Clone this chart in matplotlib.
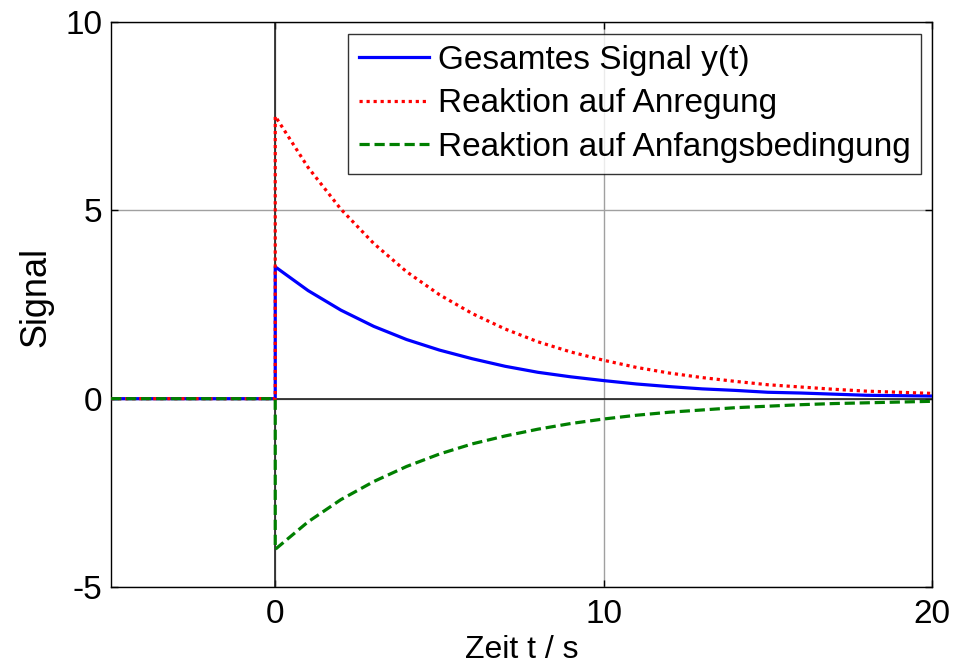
import matplotlib
matplotlib.use("Agg")
import matplotlib.pyplot as plt

plt.rcParams['font.family'] = ['Liberation Sans', 'DejaVu Sans']
plt.rcParams['axes.unicode_minus'] = False

# time axis: before step, step at t=0, then sampled response
t = [-5, 0, 0, 1, 2, 3, 4, 5, 6, 7, 8, 9, 10, 11, 12, 13, 14, 15, 16, 17, 18, 19, 20]

y_total = [0, 0, 3.5, 2.87, 2.35, 1.92, 1.57, 1.29, 1.06, 0.86, 0.70, 0.58, 0.48,
           0.39, 0.32, 0.26, 0.22, 0.17, 0.15, 0.12, 0.09, 0.08, 0.07]
y_forced = [0, 0, 7.5, 6.14, 5.03, 4.12, 3.37, 2.76, 2.26, 1.85, 1.51, 1.24, 1.02,
            0.83, 0.68, 0.56, 0.46, 0.37, 0.31, 0.25, 0.20, 0.17, 0.14]
y_initial = [0, 0, -4.0, -3.27, -2.68, -2.20, -1.80, -1.47, -1.20, -0.99, -0.81, -0.66, -0.54,
             -0.44, -0.36, -0.30, -0.24, -0.20, -0.16, -0.13, -0.11, -0.09, -0.07]

labels = ['Gesamtes Signal y(t)', 'Reaktion auf Anregung', 'Reaktion auf Anfangsbedingung']
xticks = [0, 10, 20]
yticks = [-5, 0, 5, 10]

fig = plt.figure(figsize=(9.69, 6.65), dpi=100)
ax = fig.add_axes([0.1146, 0.1173, 0.8472, 0.8496])

ax.grid(True, color='#a0a0a0', linewidth=1.0, zorder=1)
ax.axhline(0, color='#202020', linewidth=1.2, zorder=2)
ax.axvline(0, color='#202020', linewidth=1.2, zorder=2)

ax.plot(t, y_total, color='#0000ff', linewidth=2.3, linestyle='-', label=labels[0], zorder=3)
ax.plot(t, y_forced, color='#ff0000', linewidth=2.3, linestyle=(0, (1, 1.2)), label=labels[1], zorder=3)
ax.plot(t, y_initial, color='#007f00', linewidth=2.3, linestyle=(0, (3.2, 1.5)), label=labels[2], zorder=3)

ax.set_xlim(-5, 20)
ax.set_ylim(-5, 10)
ax.set_xticks(xticks)
ax.set_yticks(yticks)
ax.tick_params(direction='in', length=5, width=1, labelsize=24, top=True, right=True)
ax.tick_params(axis='x', pad=9)
ax.tick_params(axis='y', pad=6)
for s in ax.spines.values():
    s.set_linewidth(1.0)
    s.set_color('black')

ax.set_xlabel('Zeit t / s', fontsize=23, labelpad=3)
ax.set_ylabel('Signal', fontsize=26)
ax.yaxis.set_label_coords(-0.07, 0.513)

leg = ax.legend(loc='upper right', bbox_to_anchor=(0.9866, 0.9788), borderaxespad=0,
                fontsize=24, frameon=True, fancybox=False, edgecolor='black',
                handlelength=2.1, handletextpad=0.27, labelspacing=0.38,
                borderpad=0.32)
leg.get_frame().set_linewidth(1.0)

fig.savefig('out.png', dpi=100)
